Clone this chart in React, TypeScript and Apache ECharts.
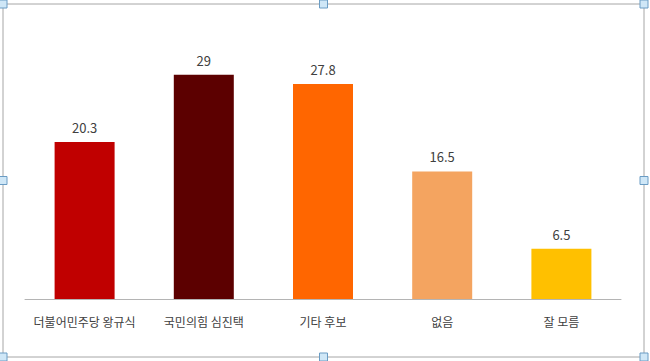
import React, { useEffect, useRef } from "react";
import * as echarts from "echarts";

const categories = ["더불어민주당 왕규식", "국민의힘 심진택", "기타 후보", "없음", "잘 모름"];
const values = [20.3, 29, 27.8, 16.5, 6.5];
const barColors = ["#c00000", "#5c0000", "#ff6600", "#f4a460", "#ffc000"];

const W = 650;
const H = 361;

export default function App() {
  const ref = useRef<HTMLDivElement>(null);
  useEffect(() => {
    document.body.style.margin = "0";
    const chart = echarts.init(ref.current!, null, { renderer: "svg" });
    const fx0 = 3, fy0 = 4, fx1 = 644, fy1 = 357;
    const hs = 8;
    const handlePts = [
      [fx0, fy0], [(fx0 + fx1) / 2, fy0], [fx1, fy0],
      [fx0, (fy0 + fy1) / 2], [fx1, (fy0 + fy1) / 2],
      [fx0, fy1], [(fx0 + fx1) / 2, fy1], [fx1, fy1],
    ];
    chart.setOption({
      animation: false,
      backgroundColor: "#ffffff",
      grid: { left: 25, right: 29, top: 67, bottom: 62, containLabel: false },
      xAxis: {
        type: "category",
        data: categories,
        axisLine: { show: true, lineStyle: { color: "#b4b4b4", width: 1 } },
        axisTick: { show: false },
        axisLabel: {
          interval: 0,
          color: "#404040",
          fontSize: 12,
          margin: 16,
          fontFamily: "'Noto Sans CJK KR', sans-serif",
        },
      },
      yAxis: {
        type: "value",
        min: 0,
        max: 30,
        show: false,
        splitLine: { show: false },
      },
      series: [
        {
          type: "bar",
          barWidth: 60,
          data: values.map((v, i) => ({ value: v, itemStyle: { color: barColors[i] } })),
          label: {
            show: true,
            position: "top",
            distance: 8,
            color: "#404040",
            fontSize: 13,
            fontFamily: "'Noto Sans CJK KR', sans-serif",
          },
        },
      ],
      graphic: [
        {
          type: "rect",
          shape: { x: fx0, y: fy0, width: fx1 - fx0, height: fy1 - fy0 },
          style: { fill: "none", stroke: "#a6a6a6", lineWidth: 1 },
          silent: true,
        },
        ...handlePts.map(([x, y]) => ({
          type: "rect",
          shape: { x: x - hs / 2, y: y - hs / 2, width: hs, height: hs },
          style: { fill: "#cfe7f7", stroke: "#6a9cc4", lineWidth: 1 },
          silent: true,
        })),
      ],
    });
    return () => chart.dispose();
  }, []);
  return <div ref={ref} style={{ width: W, height: H, position: "fixed", left: 0, top: 0 }} />;
}
